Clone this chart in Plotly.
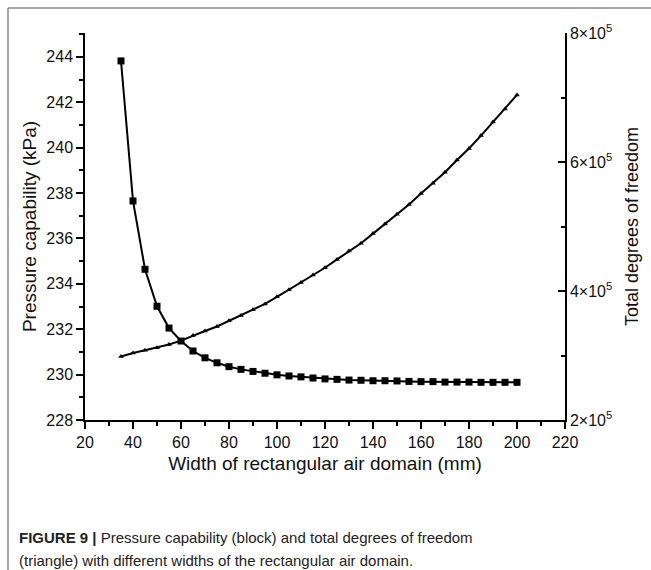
import plotly.graph_objects as go

# ---- data ----
width_mm = [35, 40, 45, 50, 55, 60, 65, 70, 75, 80, 85, 90, 95, 100, 105, 110, 115,
            120, 125, 130, 135, 140, 145, 150, 155, 160, 165, 170, 175, 180, 185, 190, 195, 200]
pressure_kpa = [243.82, 237.65, 234.64, 233.01, 232.05, 231.48, 231.04, 230.74, 230.52, 230.35,
                230.23, 230.14, 230.06, 229.99, 229.94, 229.90, 229.85, 229.81, 229.79, 229.76,
                229.75, 229.73, 229.73, 229.72, 229.70, 229.69, 229.69, 229.67, 229.67, 229.67,
                229.66, 229.66, 229.66, 229.66]
dof = [2.985e5, 3.04e5, 3.08e5, 3.12e5, 3.17e5, 3.23e5, 3.31e5, 3.38e5, 3.45e5, 3.54e5,
       3.62e5, 3.71e5, 3.80e5, 3.91e5, 4.02e5, 4.13e5, 4.25e5, 4.36e5, 4.49e5, 4.62e5,
       4.74e5, 4.89e5, 5.04e5, 5.19e5, 5.34e5, 5.51e5, 5.67e5, 5.84e5, 6.03e5, 6.21e5,
       6.41e5, 6.62e5, 6.82e5, 7.04e5]

x_ticks = [20, 40, 60, 80, 100, 120, 140, 160, 180, 200, 220]
left_ticks = [228, 230, 232, 234, 236, 238, 240, 242, 244]
right_tickvals = [2e5, 4e5, 6e5, 8e5]
right_ticktext = ["2×10<sup>5</sup>", "4×10<sup>5</sup>", "6×10<sup>5</sup>", "8×10<sup>5</sup>"]

FONT = "Liberation Sans, Arial, sans-serif"

fig = go.Figure()
fig.add_trace(go.Scatter(
    x=width_mm, y=pressure_kpa, mode="lines+markers",
    line=dict(color="black", width=2),
    marker=dict(symbol="square", size=7, color="black"),
    name="Pressure capability", yaxis="y"))
fig.add_trace(go.Scatter(
    x=width_mm, y=dof, mode="lines+markers",
    line=dict(color="black", width=2),
    marker=dict(symbol="triangle-up", size=5, color="black"),
    name="Total degrees of freedom", yaxis="y2"))

L, R, T, B = 85, 86, 33, 150
W, H = 651, 570
pw, ph = W - L - R, H - T - B

def px_x(p):
    return (p - L) / pw

def px_y(p):
    return (H - B - p) / ph

fig.update_layout(
    width=W, height=H,
    margin=dict(l=L, r=R, t=T, b=B, pad=0),
    paper_bgcolor="white", plot_bgcolor="white",
    showlegend=False,
    font=dict(family=FONT, color="#111"),
    xaxis=dict(
        range=[20, 220], tickvals=x_ticks, showgrid=False, zeroline=False,
        showline=True, linecolor="black", linewidth=1.5,
        ticks="outside", ticklen=7, tickwidth=1.5, tickcolor="black",
        minor=dict(dtick=10, tick0=20, ticks="outside", ticklen=4, tickwidth=1.5, tickcolor="black"),
        tickfont=dict(size=16, family=FONT, color="#111"),
        title=dict(text="Width of rectangular air domain (mm)", font=dict(size=19, family=FONT, color="#111"), standoff=7),
    ),
    yaxis=dict(
        range=[228, 245.05], tickvals=left_ticks, showgrid=False, zeroline=False,
        showline=True, linecolor="black", linewidth=1.5,
        ticks="outside", ticklen=7, tickwidth=1.5, tickcolor="black",
        minor=dict(dtick=1, tick0=228, ticks="outside", ticklen=4, tickwidth=1.5, tickcolor="black"),
        tickfont=dict(size=16, family=FONT, color="#111"),
        title=dict(text="Pressure capability (kPa)", font=dict(size=19, family=FONT, color="#111"), standoff=5),
    ),
    yaxis2=dict(
        range=[2e5, 8e5], overlaying="y", side="right",
        tickvals=right_tickvals, ticktext=right_ticktext,
        showgrid=False, zeroline=False,
        showline=True, linecolor="black", linewidth=1.5,
        ticks="inside", ticklen=7, tickwidth=1.5, tickcolor="black",
        minor=dict(dtick=1e5, tick0=2e5, ticks="inside", ticklen=4, tickwidth=1.5, tickcolor="black"),
        tickfont=dict(size=16, family=FONT, color="#111"),
        title=dict(text="Total degrees of freedom", font=dict(size=18, family=FONT, color="#111"), standoff=14),
    ),
)

# outer grey frame (partially visible)
fig.add_shape(type="line", xref="paper", yref="paper",
              x0=px_x(8), y0=px_y(8), x1=px_x(700), y1=px_y(8),
              line=dict(color="#8a8a8a", width=1.5))
fig.add_shape(type="line", xref="paper", yref="paper",
              x0=px_x(8), y0=px_y(8), x1=px_x(8), y1=px_y(620),
              line=dict(color="#8a8a8a", width=1.5))

CAP_FONT = "Liberation Sans, Arial, sans-serif"
fig.add_annotation(xref="paper", yref="paper", x=px_x(17), y=px_y(537),
                   xanchor="left", yanchor="middle", showarrow=False, align="left",
                   text="<b>FIGURE 9 |</b> Pressure capability (block) and total degrees of freedom",
                   font=dict(size=15, family=CAP_FONT, color="#222"))
fig.add_annotation(xref="paper", yref="paper", x=px_x(17), y=px_y(560),
                   xanchor="left", yanchor="middle", showarrow=False, align="left",
                   text="(triangle) with different widths of the rectangular air domain.",
                   font=dict(size=15, family=CAP_FONT, color="#222"))

fig.write_html("out.html")
